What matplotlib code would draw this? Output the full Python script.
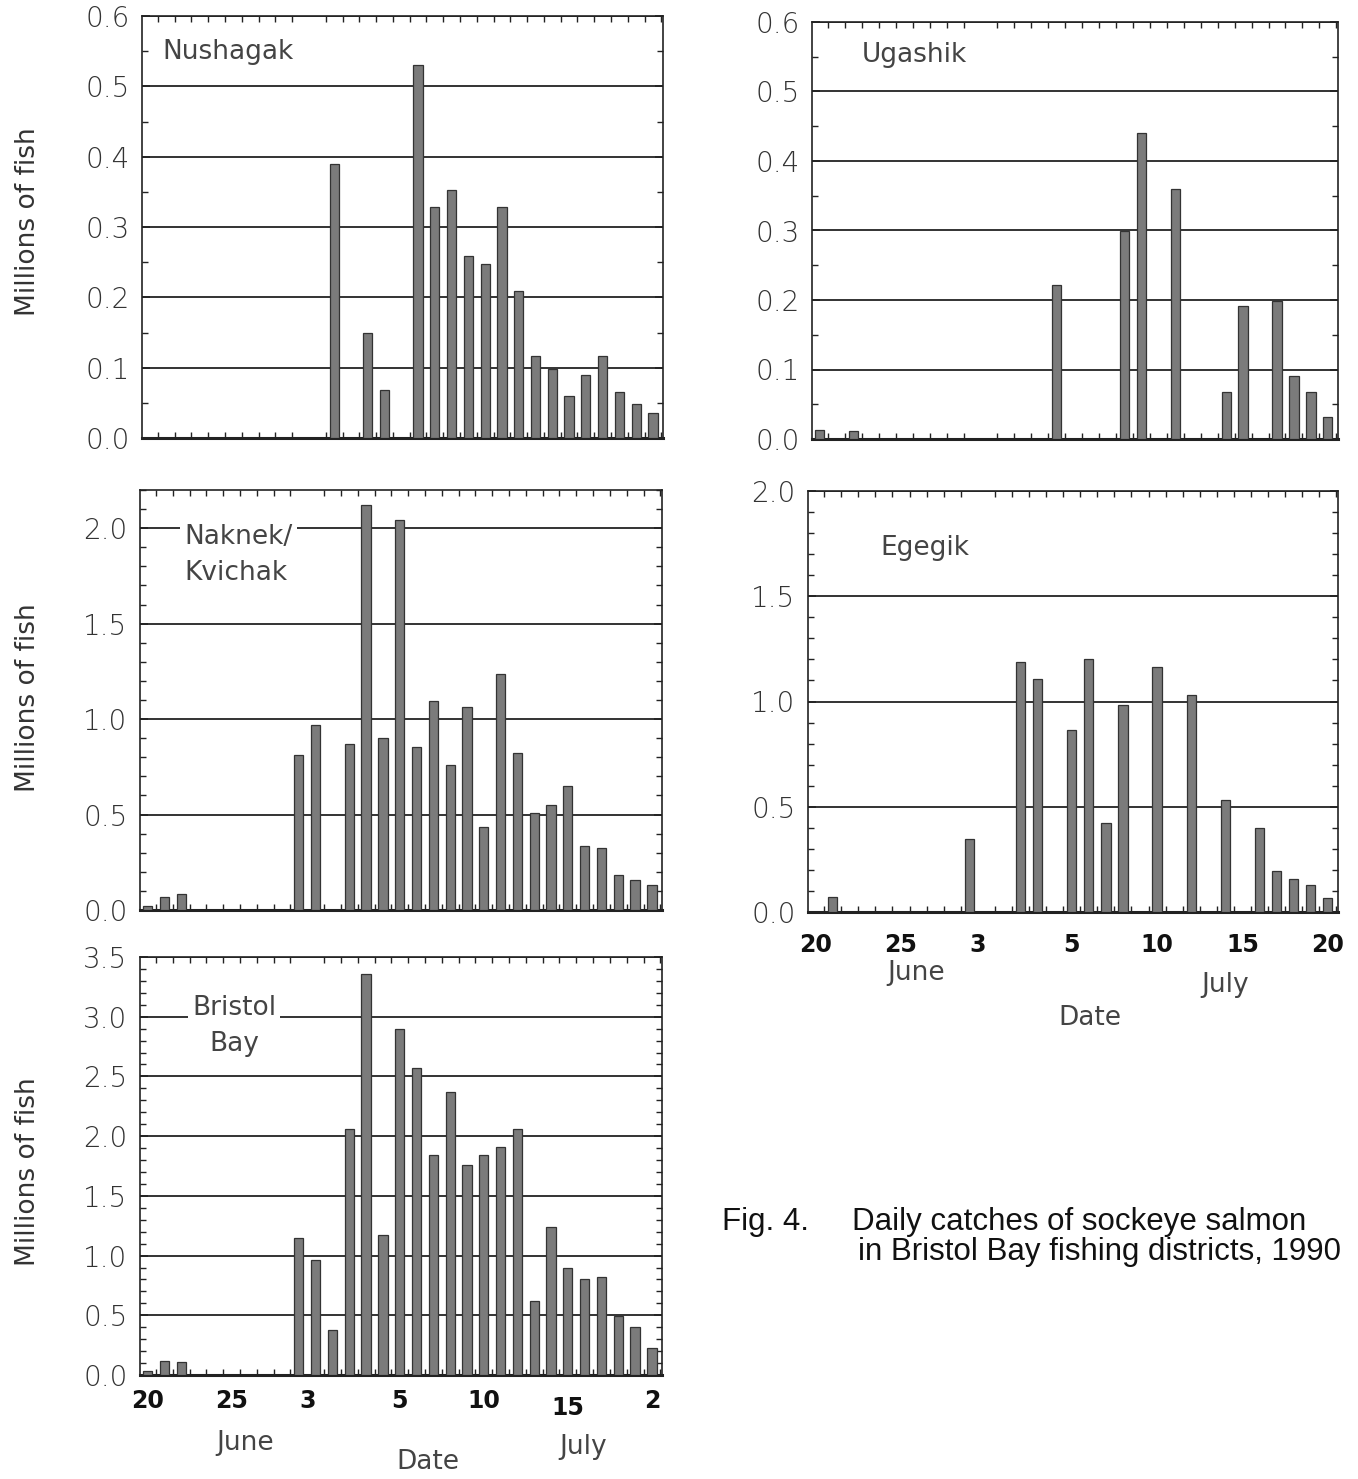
import matplotlib
matplotlib.use("Agg")
import matplotlib.pyplot as plt
import numpy as np
from matplotlib.ticker import MultipleLocator, FixedLocator, FormatStrFormatter

# day index 0 = June 20 ... 30 = July 20
days = np.arange(31)

nushagak = [0, 0, 0, 0, 0, 0, 0, 0, 0, 0, 0, 0.39, 0, 0.149, 0.068, 0, 0.531,
            0.329, 0.352, 0.259, 0.247, 0.328, 0.209, 0.117, 0.098, 0.060,
            0.090, 0.117, 0.066, 0.048, 0.036]
ugashik = [0.013, 0, 0.012, 0, 0, 0, 0, 0, 0, 0, 0, 0, 0, 0, 0.222, 0, 0, 0,
           0.30, 0.441, 0, 0.36, 0, 0, 0.068, 0.191, 0, 0.198, 0.091, 0.067,
           0.031]
naknek = [0.023, 0.066, 0.082, 0, 0, 0, 0, 0, 0, 0.813, 0.967, 0, 0.869, 2.119,
          0.90, 2.045, 0.853, 1.093, 0.757, 1.063, 0.437, 1.236, 0.825, 0.507,
          0.551, 0.647, 0.337, 0.323, 0.184, 0.157, 0.131]
egegik = [0, 0.071, 0, 0, 0, 0, 0, 0, 0, 0.347, 0, 0, 1.19, 1.105, 0, 0.864,
          1.203, 0.422, 0.983, 0, 1.164, 0, 1.029, 0, 0.534, 0, 0.397, 0.193,
          0.156, 0.127, 0.066]
bristol = [0.037, 0.121, 0.105, 0, 0, 0, 0, 0, 0, 1.15, 0.96, 0.38, 2.06, 3.356,
           1.17, 2.90, 2.57, 1.84, 2.37, 1.76, 1.84, 1.91, 2.06, 0.62, 1.24,
           0.90, 0.80, 0.82, 0.49, 0.40, 0.23]

tick_pos = [0, 5, 9.5, 15, 20, 25, 30]
egegik_ticks = ["20", "25", "3", "5", "10", "15", "20"]
bristol_ticks = ["20", "25", "3", "5", "10", "15", "2"]

W, H = 1358, 1479
fig = plt.figure(figsize=(W / 100, H / 100), dpi=100)


def px_axes(l, t, r, b):
    return fig.add_axes([l / W, 1 - b / H, (r - l) / W, (b - t) / H])


def panel(ax, vals, ymax, major, minor, xlabels=None, xpad=10):
    vals = np.array(vals)
    m = vals > 0
    ax.bar(days[m], vals[m], width=0.55, color="#7b7b7b", edgecolor="#333",
           linewidth=0.9, zorder=3)
    ax.set_xlim(-0.45, 30.6)
    ax.set_ylim(0, ymax)
    ax.yaxis.set_major_locator(MultipleLocator(major))
    ax.yaxis.set_minor_locator(MultipleLocator(minor))
    ax.yaxis.set_major_formatter(FormatStrFormatter("%.1f"))
    ax.xaxis.set_minor_locator(FixedLocator(np.arange(31) + 0.5))
    ax.set_xticks(tick_pos)
    if xlabels:
        ax.set_xticklabels(xlabels, fontsize=17, fontweight="bold",
                           color="#111")
    else:
        ax.set_xticklabels([])
    ax.grid(axis="y", which="major", color="#333", linewidth=1.4, zorder=1)
    ax.tick_params(which="both", direction="in", top=True, right=True,
                   color="#222")
    ax.tick_params(axis="x", which="major", length=0, pad=xpad)
    ax.tick_params(axis="x", which="minor", length=4, width=1)
    ax.tick_params(axis="y", which="major", length=6, width=1.2, pad=9,
                   labelsize=20, labelcolor="#333")
    ax.tick_params(axis="y", which="minor", length=4, width=1)
    for lab in ax.get_yticklabels():
        lab.set_fontweight("light")
    for s in ax.spines.values():
        s.set_linewidth(1.2)
        s.set_color("#222")
    ax.spines["bottom"].set_linewidth(2.2)


ax_nu = px_axes(142, 16, 663, 438)
ax_ug = px_axes(812, 22, 1338, 439)
ax_na = px_axes(140, 490, 662, 910)
ax_eg = px_axes(808, 491, 1338, 912)
ax_bb = px_axes(140, 957, 662, 1375)

panel(ax_nu, nushagak, 0.6, 0.1, 0.05)
panel(ax_ug, ugashik, 0.6, 0.1, 0.05)
panel(ax_na, naknek, 2.2, 0.5, 0.1)
panel(ax_eg, egegik, 2.0, 0.5, 0.1, egegik_ticks, xpad=15)
panel(ax_bb, bristol, 3.5, 0.5, 0.1, bristol_ticks)

# the "15" under Bristol Bay sits a little lower
lab15 = ax_bb.get_xticklabels()[5]
lab15.set_y(-0.018)

name_style = dict(fontsize=19, color="#444", va="center", zorder=5)
box = dict(facecolor="white", edgecolor="none", pad=3)
ax_nu.text(0.04, 0.915, "Nushagak", transform=ax_nu.transAxes, **name_style)
ax_ug.text(0.095, 0.92, "Ugashik", transform=ax_ug.transAxes, **name_style)
ax_na.text(0.085, 0.845, "Naknek/\nKvichak", transform=ax_na.transAxes,
           linespacing=1.5, bbox=box, **name_style)
ax_eg.text(0.136, 0.865, "Egegik", transform=ax_eg.transAxes, **name_style)
ax_bb.text(0.18, 0.835, "Bristol\nBay", transform=ax_bb.transAxes,
           ha="center", linespacing=1.5, bbox=box, **name_style)

for yc in (222, 698, 1172):
    fig.text(28 / W, 1 - yc / H, "Millions of fish", rotation=90, fontsize=19,
             color="#333", ha="center", va="center")

sub_style = dict(fontsize=19, color="#444", ha="center", va="center")
fig.text(245 / W, 1 - 1443 / H, "June", **sub_style)
fig.text(428 / W, 1 - 1462 / H, "Date", **sub_style)
fig.text(583 / W, 1 - 1447 / H, "July", **sub_style)
fig.text(916 / W, 1 - 973 / H, "June", **sub_style)
fig.text(1090 / W, 1 - 1018 / H, "Date", **sub_style)
fig.text(1225 / W, 1 - 985 / H, "July", **sub_style)

cap = dict(fontsize=22.5, family="Liberation Sans", color="#111", va="center")
fig.text(722 / W, 1 - 1222 / H, "Fig. 4.", **cap)
fig.text(852 / W, 1 - 1222 / H, "Daily catches of sockeye salmon", **cap)
fig.text(858 / W, 1 - 1252 / H, "in Bristol Bay fishing districts, 1990", **cap)

fig.savefig("out.png", dpi=100, facecolor="white")
